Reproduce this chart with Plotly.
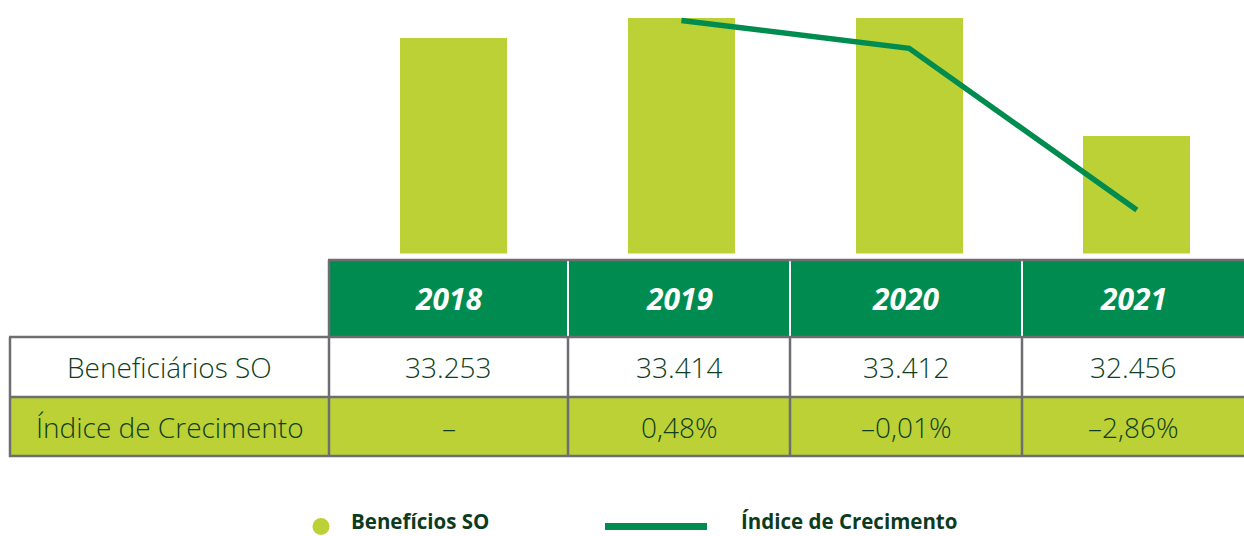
import plotly.graph_objects as go

# ---- data -------------------------------------------------------------
years = ["2018", "2019", "2020", "2021"]
beneficiarios = [33253, 33414, 33412, 32456]
crecimento = [None, 0.48, -0.01, -2.86]          # % growth vs previous year
row_labels = ["Beneficiários SO", "Índice de Crecimento"]
legend_labels = ["Benefícios SO", "Índice de Crecimento"]

# ---- style ------------------------------------------------------------
W, H = 1244, 536
LIME = "#BCD136"
GREEN = "#008C50"
LINE_GREEN = "#008C4F"
TEXT = "#0F3F20"
LEGEND_TEXT = "#0D3B1E"
BORDER = "#6D6E71"
FONT = "Open Sans"


def px(x):
    return x / W


def py(y):
    return 1 - y / H


def fmt_int(v):
    return f"{v:,}".replace(",", ".")


def fmt_pct(v):
    if v is None:
        return "–"
    sign = "–" if v < 0 else ""
    return sign + f"{abs(v):.2f}".replace(".", ",") + "%"


fig = go.Figure()

fig.add_trace(go.Bar(
    x=years, y=beneficiarios, width=0.47,
    marker=dict(color=LIME, line=dict(width=0)),
    name=legend_labels[0], hoverinfo="skip",
))

line_x = [y for y, v in zip(years, crecimento) if v is not None]
line_y = [v for v in crecimento if v is not None]
fig.add_trace(go.Scatter(
    x=line_x, y=line_y, yaxis="y2", mode="lines",
    line=dict(color=LINE_GREEN, width=5.5),
    name=legend_labels[1], hoverinfo="skip",
))

# ---- table geometry (pixels) -----------------------------------------
col_edges = [10, 329, 568, 790, 1022, 1244]
head_top, head_bot, r1_bot, r2_bot = 261, 337, 397, 456

shapes = []


def rect(x0, y0, x1, y1, fill):
    shapes.append(dict(type="rect", xref="paper", yref="paper",
                       x0=px(x0), x1=px(x1), y0=py(y1), y1=py(y0),
                       fillcolor=fill, line=dict(width=0), layer="below"))


def hline(x0, x1, y, color=BORDER, w=2.5):
    shapes.append(dict(type="line", xref="paper", yref="paper",
                       x0=px(x0), x1=px(x1), y0=py(y), y1=py(y),
                       line=dict(color=color, width=w)))


def vline(x, y0, y1, color=BORDER, w=2.5):
    shapes.append(dict(type="line", xref="paper", yref="paper",
                       x0=px(x), x1=px(x), y0=py(y0), y1=py(y1),
                       line=dict(color=color, width=w)))


rect(col_edges[1], head_top, col_edges[-1], head_bot, GREEN)
rect(col_edges[0], head_bot, col_edges[-1], r1_bot, "white")
rect(col_edges[0], r1_bot, col_edges[-1], r2_bot, LIME)

for x in col_edges[2:-1]:
    vline(x, head_top, head_bot - 1, color="white", w=2)
hline(col_edges[1] - 1, col_edges[-1], head_top - 1)
vline(col_edges[1], head_top - 1, head_bot)
for y in (head_bot, r1_bot, r2_bot):
    hline(col_edges[0] - 1, col_edges[-1], y)
for x in col_edges[:-1]:
    vline(x, head_bot, r2_bot + 1)

annotations = []


def text(x, y, s, size, color, weight=400, italic=False, anchor="center",
         yanchor="middle"):
    annotations.append(dict(
        xref="paper", yref="paper", x=px(x), y=py(y), text=s, showarrow=False,
        xanchor=anchor, yanchor=yanchor, borderpad=0,
        font=dict(family=FONT, size=size, color=color, weight=weight,
                  style="italic" if italic else "normal"),
    ))


centers = [(a + b) / 2 for a, b in zip(col_edges[1:-1], col_edges[2:])]
first_center = (col_edges[0] + col_edges[1]) / 2

for cx, yr in zip(centers, years):
    text(cx, 298, yr, 30, "white", weight=700, italic=True)

text(first_center, 367, row_labels[0], 28, TEXT, weight=300)
text(first_center, 427, row_labels[1], 28, TEXT, weight=300)
for cx, v in zip(centers, beneficiarios):
    text(cx, 367, fmt_int(v), 28, TEXT, weight=300)
for cx, v in zip(centers, crecimento):
    text(cx, 427, fmt_pct(v), 28, TEXT, weight=300)

# ---- legend -----------------------------------------------------------
shapes.append(dict(type="circle", xref="paper", yref="paper",
                   x0=px(312.5), x1=px(329.5), y0=py(535), y1=py(518),
                   fillcolor=LIME, line=dict(width=0)))
shapes.append(dict(type="line", xref="paper", yref="paper",
                   x0=px(605), x1=px(707), y0=py(526.5), y1=py(526.5),
                   line=dict(color=LINE_GREEN, width=7)))
text(350, 536, legend_labels[0], 20.5, LEGEND_TEXT, weight=700, anchor="left",
     yanchor="bottom")
text(740, 536, legend_labels[1], 20.5, LEGEND_TEXT, weight=700, anchor="left",
     yanchor="bottom")

fig.update_layout(
    width=W, height=H,
    margin=dict(l=0, r=0, t=0, b=0),
    paper_bgcolor="white", plot_bgcolor="white",
    showlegend=False,
    bargap=0,
    xaxis=dict(type="category", range=[-1.9925, 3.4707], visible=False,
               fixedrange=True),
    yaxis=dict(domain=[py(253.5), 1], range=[31506, 33560], visible=False,
               fixedrange=True),
    yaxis2=dict(domain=[py(253.5), 1], range=[-3.629, 0.8416], overlaying="y",
                visible=False, fixedrange=True),
    shapes=shapes,
    annotations=annotations,
)

fig.write_html("out.html")
